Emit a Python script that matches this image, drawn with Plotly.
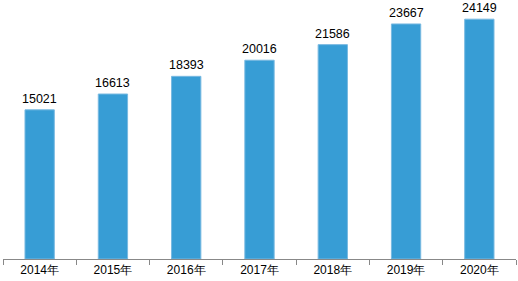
import plotly.graph_objects as go

years = ["2014年", "2015年", "2016年", "2017年", "2018年", "2019年", "2020年"]
values = [15021, 16613, 18393, 20016, 21586, 23667, 24149]

fig = go.Figure(go.Bar(
    x=years, y=values,
    marker=dict(color="rgb(55,157,213)", line=dict(color="rgb(120,185,225)", width=1)),
))
for yr, v in zip(years, values):
    fig.add_annotation(x=yr, y=v, text=str(v), showarrow=False, yanchor="bottom",
                       yshift=2, font=dict(family="Liberation Sans, Arial", size=12.5, color="#000"))
fig.update_layout(
    width=518, height=281,
    margin=dict(l=3, r=2, t=0, b=22),
    paper_bgcolor="white", plot_bgcolor="white",
    bargap=0.6, showlegend=False,
    font=dict(family="Liberation Sans, Arial", size=12, color="#000"),
)
fig.update_xaxes(showline=True, linecolor="#888", linewidth=1, ticks="outside",
                 tickson="boundaries", ticklen=5, tickcolor="#888",
                 tickfont=dict(size=12, color="#000"), showgrid=False)
fig.update_yaxes(range=[0, 26080], visible=False, showgrid=False)
fig.write_html("out.html")
